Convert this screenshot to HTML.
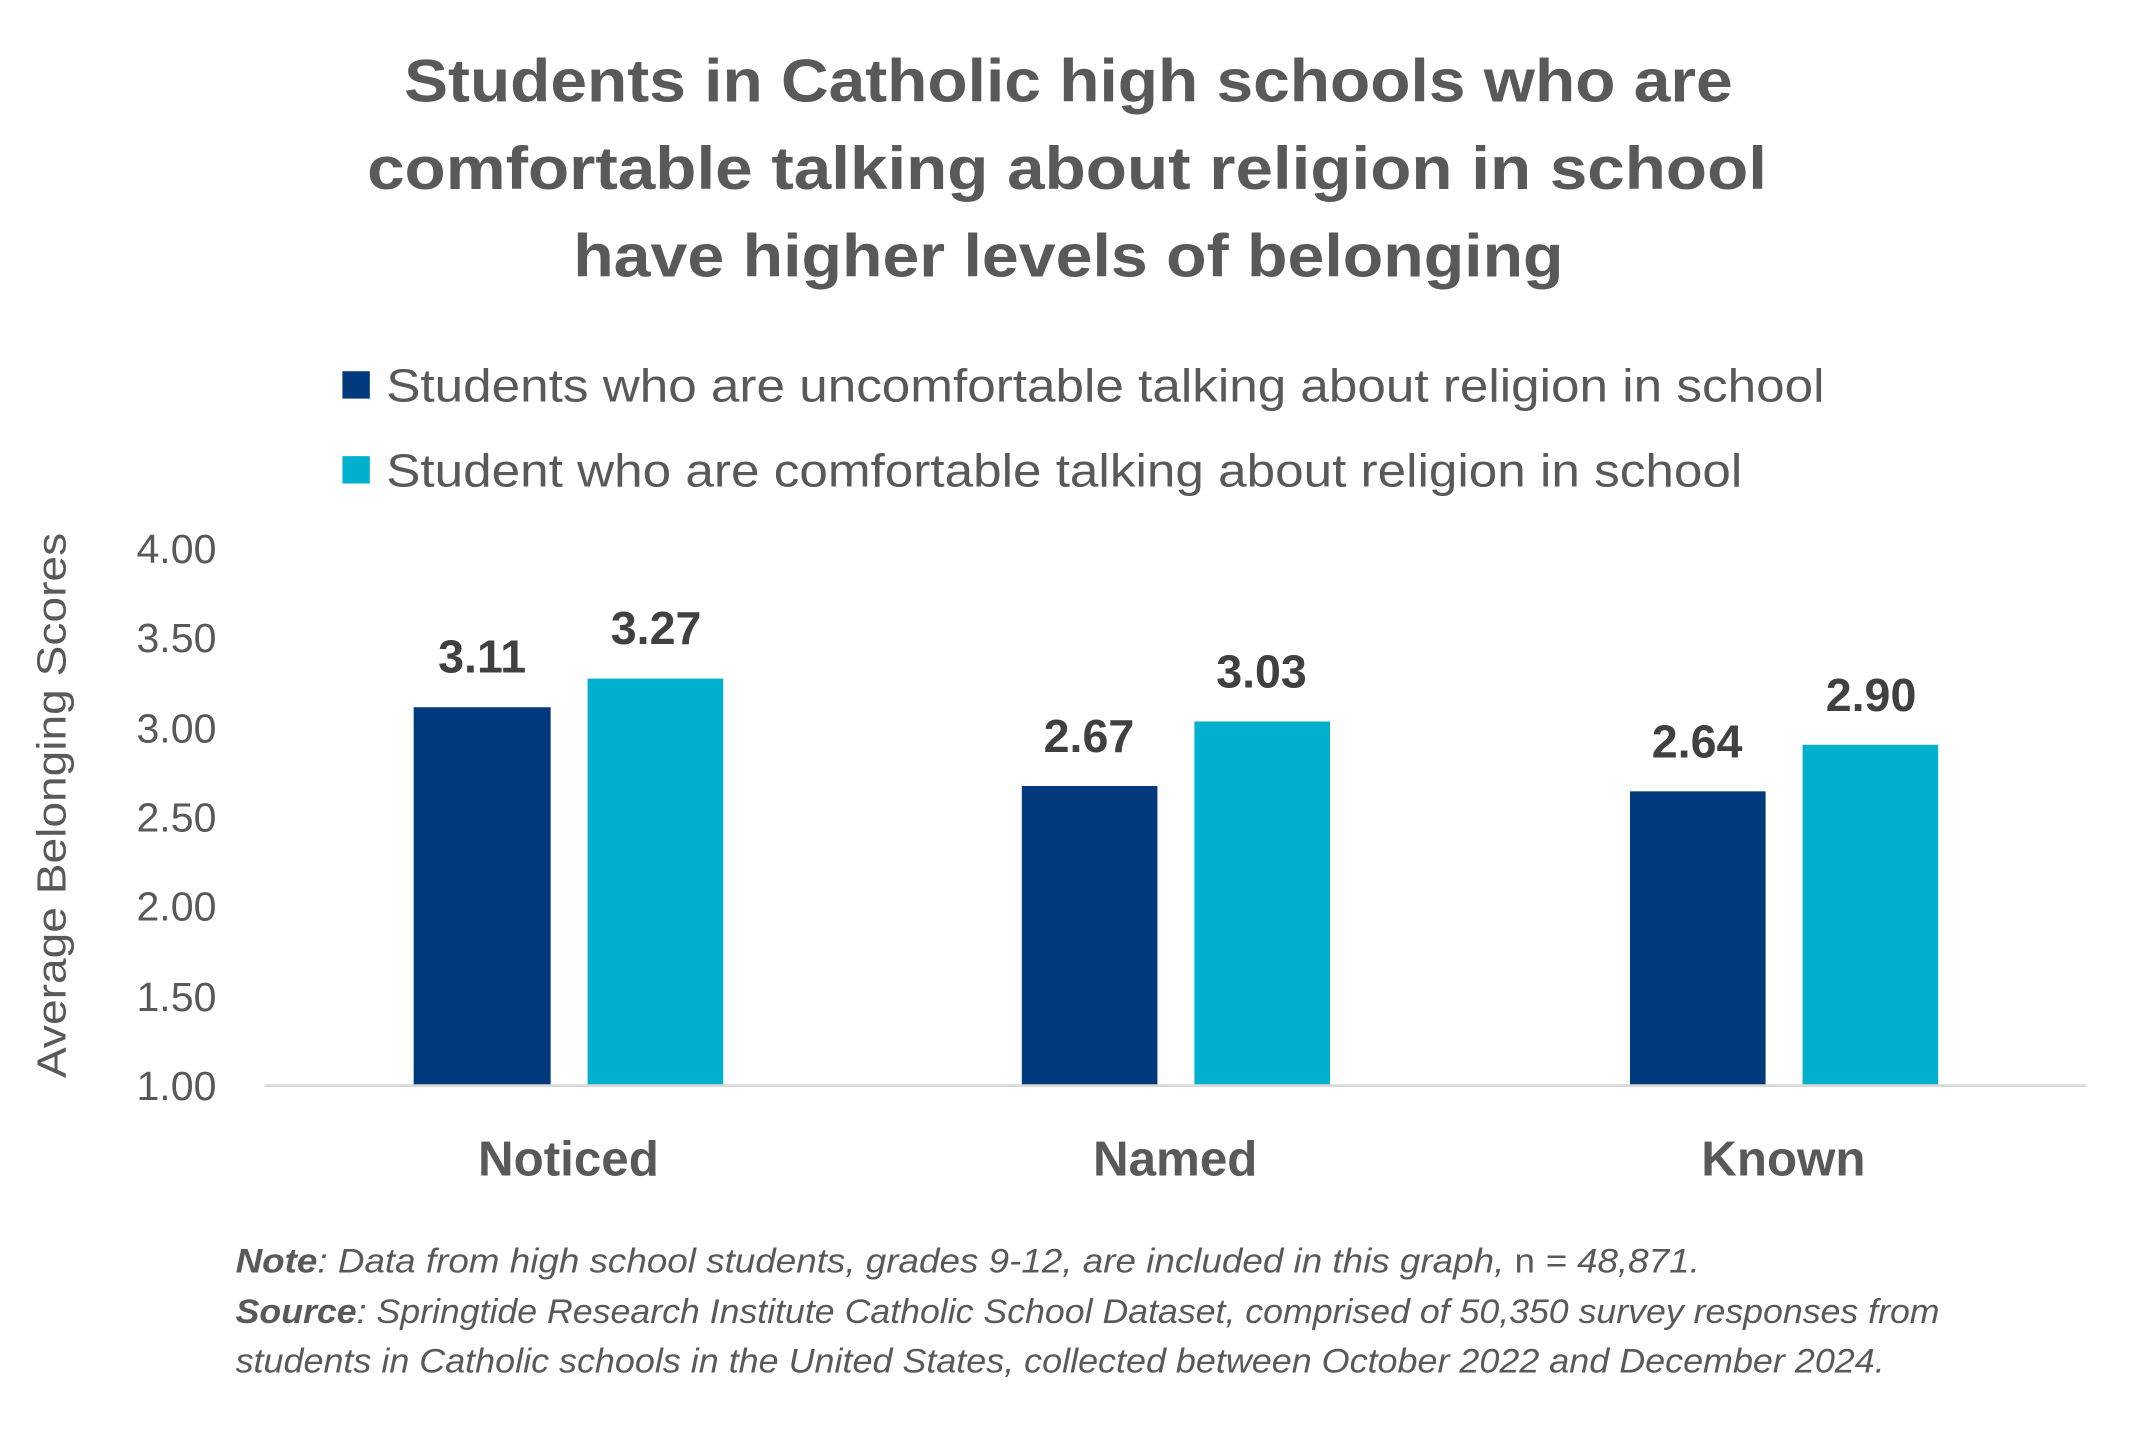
<!DOCTYPE html>
<html><head><meta charset="utf-8"><style>html,body{margin:0;padding:0;background:#fff}svg{display:block}</style></head>
<body>
<svg width="2145" height="1452" viewBox="0 0 1566 1060" preserveAspectRatio="none" xmlns="http://www.w3.org/2000/svg" font-family="'Liberation Sans', sans-serif">
<rect width="1566" height="1060" fill="#fff"/>
<g fill="#595959" font-weight="bold" font-size="44" text-anchor="middle">
<text x="780" y="74" textLength="970" lengthAdjust="spacingAndGlyphs">Students in Catholic high schools who are</text>
<text x="779" y="138" textLength="1022" lengthAdjust="spacingAndGlyphs">comfortable talking about religion in school</text>
<text x="780" y="202" textLength="723" lengthAdjust="spacingAndGlyphs">have higher levels of belonging</text>
</g>
<rect x="250" y="271" width="20" height="20" fill="#003a7d"/>
<rect x="250" y="333" width="20" height="20" fill="#00b0cc"/>
<g fill="#595959" font-size="34">
<text x="282" y="293" textLength="1050" lengthAdjust="spacingAndGlyphs">Students who are uncomfortable talking about religion in school</text>
<text x="282" y="355" textLength="990" lengthAdjust="spacingAndGlyphs">Student who are comfortable talking about religion in school</text>
</g>
<g fill="#595959" font-size="30" text-anchor="end">
<text x="158" y="411">4.00</text>
<text x="158" y="476">3.50</text>
<text x="158" y="542">3.00</text>
<text x="158" y="607">2.50</text>
<text x="158" y="672">2.00</text>
<text x="158" y="738">1.50</text>
<text x="158" y="803">1.00</text>
</g>
<text transform="translate(48,588) rotate(-90)" fill="#595959" font-size="30" text-anchor="middle" textLength="398" lengthAdjust="spacingAndGlyphs">Average Belonging Scores</text>
<g fill="#003a7d">
<rect x="302" y="516.3" width="100" height="275.7"/>
<rect x="746" y="573.8" width="99" height="218.2"/>
<rect x="1190" y="577.7" width="99" height="214.3"/>
</g>
<g fill="#00b0cc">
<rect x="429" y="495.4" width="99" height="296.6"/>
<rect x="872" y="526.7" width="99" height="265.3"/>
<rect x="1316" y="543.7" width="99" height="248.3"/>
</g>
<line x1="193" y1="792.5" x2="1523" y2="792.5" stroke="#d9d9d9" stroke-width="2"/>
<g fill="#404040" font-weight="bold" font-size="34" text-anchor="middle">
<text x="352" y="491">3.11</text>
<text x="479" y="470">3.27</text>
<text x="795" y="549">2.67</text>
<text x="921" y="502">3.03</text>
<text x="1239" y="553">2.64</text>
<text x="1366" y="519">2.90</text>
</g>
<g fill="#595959" font-weight="bold" font-size="36" text-anchor="middle">
<text x="415" y="858">Noticed</text>
<text x="858" y="858">Named</text>
<text x="1302" y="858">Known</text>
</g>
<g fill="#595959" font-size="25" font-style="italic">
<text x="172" y="929" textLength="1069" lengthAdjust="spacingAndGlyphs"><tspan font-weight="bold">Note</tspan>: Data from high school students, grades 9-12, are included in this graph, <tspan font-style="normal">n</tspan> = 48,871.</text>
<text x="172" y="966" textLength="1244" lengthAdjust="spacingAndGlyphs"><tspan font-weight="bold">Source</tspan>: Springtide Research Institute Catholic School Dataset, comprised of 50,350 survey responses from</text>
<text x="172" y="1002" textLength="1204" lengthAdjust="spacingAndGlyphs">students in Catholic schools in the United States, collected between October 2022 and December 2024.</text>
</g>
</svg>
</body></html>
